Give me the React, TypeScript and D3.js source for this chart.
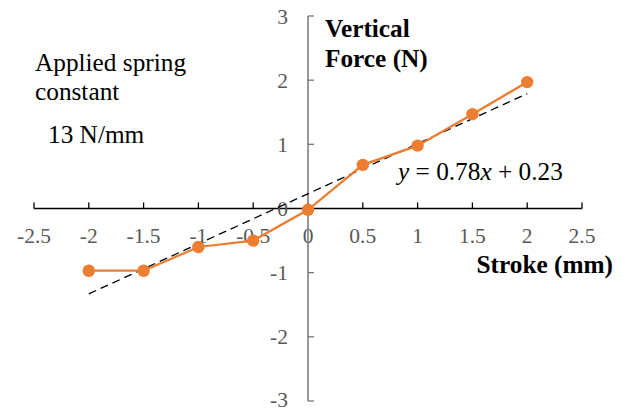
import React from "react";
import * as d3 from "d3";

const strokeMm = [-2, -1.5, -1, -0.5, 0, 0.5, 1, 1.5, 2];
const forceN = [-0.97, -0.97, -0.6, -0.5, -0.02, 0.68, 0.98, 1.47, 1.97];
const xTicks = [-2.5, -2, -1.5, -1, -0.5, 0, 0.5, 1, 1.5, 2, 2.5];
const yTicks = [-3, -2, -1, 0, 1, 2, 3];
const slope = 0.78;
const intercept = 0.23;
const trendRange = [-2, 2];

const W = 625;
const H = 411;

export default function App() {
  const x = d3.scaleLinear().domain([-2.5, 2.5]).range([34, 582]);
  const y = d3.scaleLinear().domain([-3, 3]).range([401, 16]);
  const line = d3
    .line<number>()
    .x((_, i) => x(strokeMm[i]))
    .y((d) => y(d));
  const trend = trendRange.map((v) => [x(v), y(slope * v + intercept)]);
  const ff = { fontFamily: "Liberation Serif, DejaVu Serif, serif" };
  const orange = "#ED7D31";
  const fs = 25.3;
  return (
    <svg
      width={W}
      height={H}
      style={{ position: "absolute", left: 0, top: 0, display: "block", background: "#fff" }}
    >
      {/* x axis */}
      <line x1={x(-2.5)} x2={x(2.5)} y1={y(0)} y2={y(0)} stroke="#000" strokeWidth={1.3} />
      {xTicks.map((t) => (
        <g key={"xt" + t}>
          <line x1={x(t)} x2={x(t)} y1={y(0)} y2={y(0) - 6} stroke="#000" strokeWidth={1.3} />
          <text x={x(t)} y={y(0) + 34} textAnchor="middle" fontSize={21.5} fill="#595959" style={ff}>
            {t}
          </text>
        </g>
      ))}
      {/* y axis */}
      <line x1={x(0)} x2={x(0)} y1={y(-3)} y2={y(3)} stroke="#767676" strokeWidth={1.5} />
      {yTicks.map((t) => (
        <g key={"yt" + t}>
          <line x1={x(0)} x2={x(0) + 6} y1={y(t)} y2={y(t)} stroke="#767676" strokeWidth={1.3} />
          <text x={x(0) - 20} y={Math.min(y(t) + 7.5, 407)} textAnchor="end" fontSize={21.5} fill="#595959" style={ff}>
            {t}
          </text>
        </g>
      ))}
      {/* trendline */}
      <line
        x1={trend[0][0]}
        y1={trend[0][1]}
        x2={trend[1][0]}
        y2={trend[1][1]}
        stroke="#000"
        strokeWidth={1.3}
        strokeDasharray="8,5"
      />
      {/* series */}
      <path d={line(forceN) || ""} fill="none" stroke={orange} strokeWidth={2.25} />
      {forceN.map((v, i) => (
        <circle key={"p" + i} cx={x(strokeMm[i])} cy={y(v)} r={6.2} fill={orange} />
      ))}
      {/* labels */}
      <text x={325} y={37} fontSize={fs} fontWeight="bold" fill="#000" style={ff}>
        Vertical
      </text>
      <text x={325} y={67} fontSize={fs} fontWeight="bold" fill="#000" style={ff}>
        Force (N)
      </text>
      <text x={613} y={273} fontSize={fs} fontWeight="bold" fill="#000" textAnchor="end" style={ff}>
        Stroke (mm)
      </text>
      <text x={35} y={71} fontSize={fs} fill="#000" style={ff}>
        Applied spring
      </text>
      <text x={35} y={100} fontSize={fs} fill="#000" style={ff}>
        constant
      </text>
      <text x={48} y={143} fontSize={fs} fill="#000" style={ff}>
        13 N/mm
      </text>
      <text x={398} y={180} fontSize={fs} fill="#000" style={ff}>
        <tspan fontStyle="italic">y</tspan>
        {" = 0.78"}
        <tspan fontStyle="italic">x</tspan>
        {" + 0.23"}
      </text>
    </svg>
  );
}
